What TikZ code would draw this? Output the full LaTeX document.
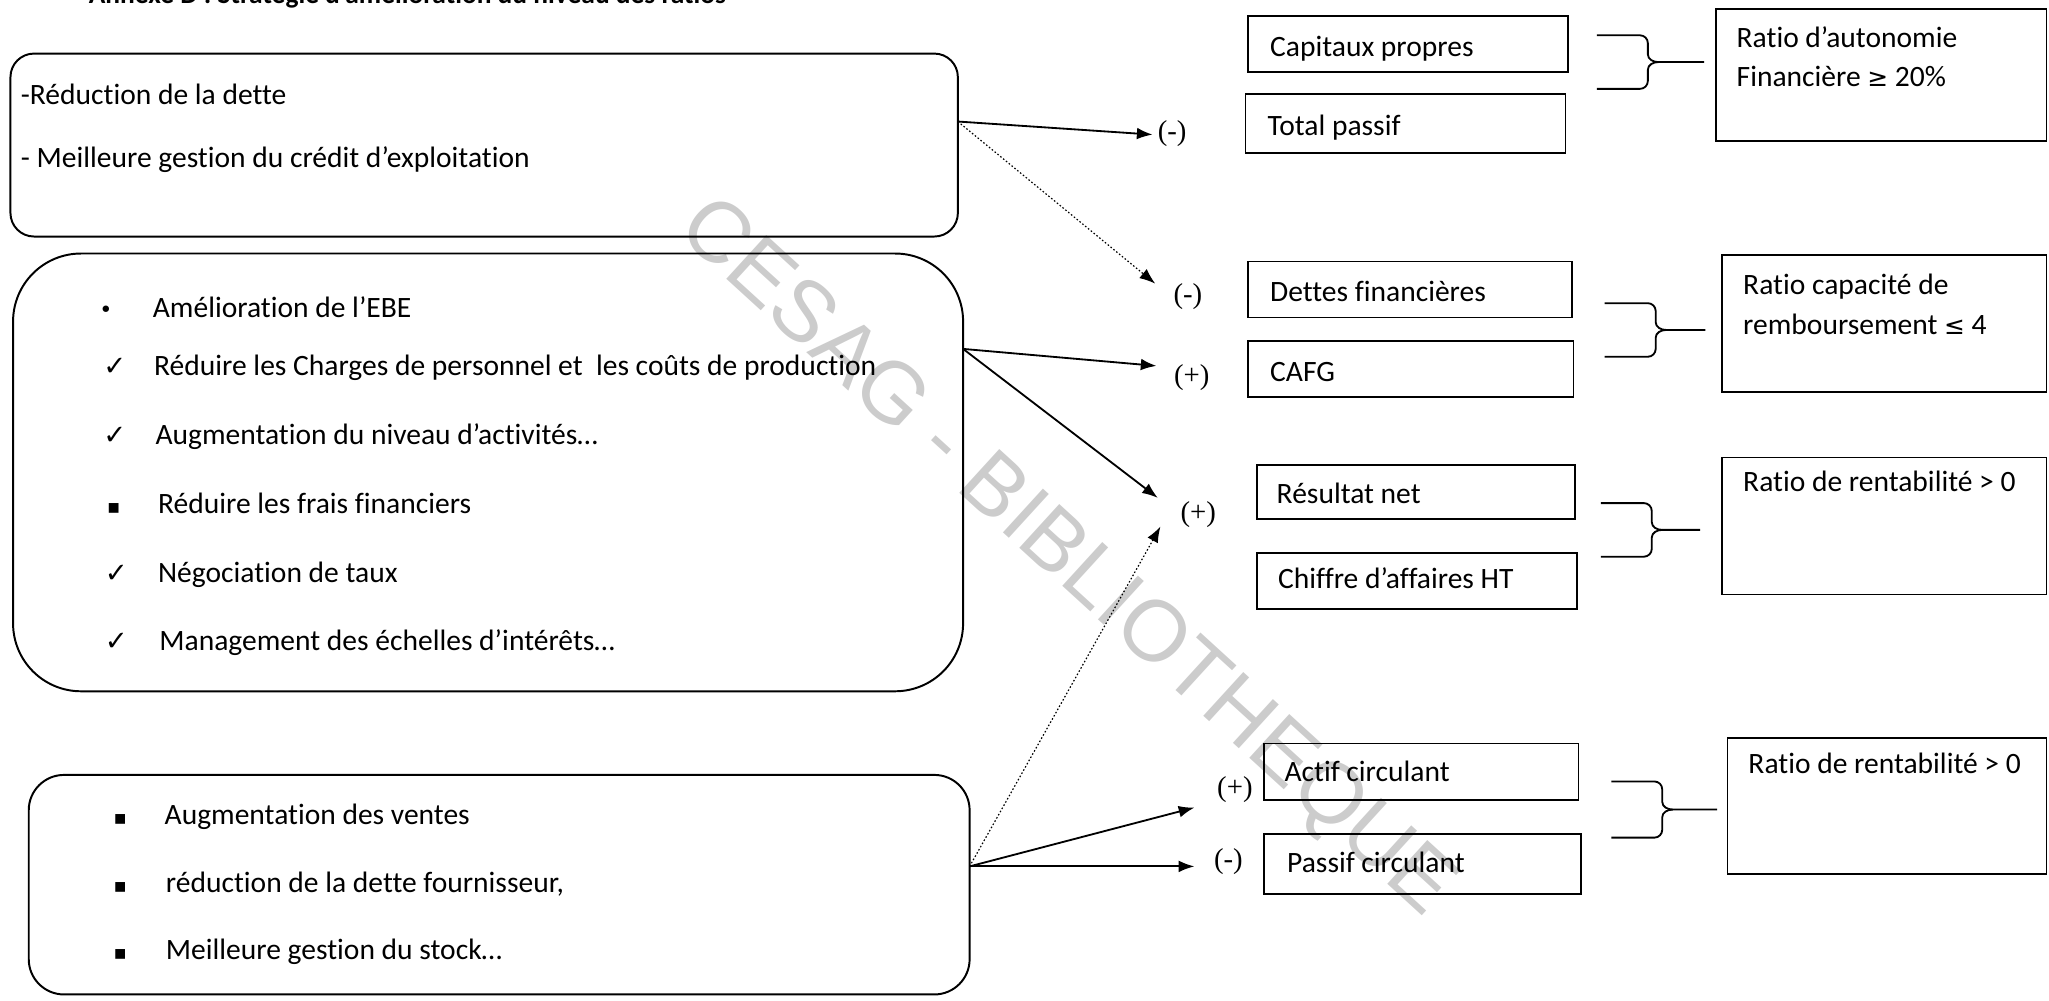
\documentclass[tikz,border=0pt]{standalone}
\usepackage{fontspec}
\setmainfont[Ligatures={NoCommon}]{Carlito}
\newfontfamily\symf{DejaVu Sans}
\newfontfamily\serf{Liberation Serif}
\newfontfamily\wmf{Liberation Sans}
\usetikzlibrary{arrows.meta,calc}
\newcommand\mybrace[4]{% left x, top y, bottom y, end x (all positive, y downward)
  \pgfmathsetmacro\bV{#1+39}\pgfmathsetmacro\bM{(#2+#3)/2}
  \draw[brc] (#1,-#2) -- (\bV-6,-#2) to[out=0,in=90] (\bV,-#2-6) -- (\bV,-\bM+6)
     to[out=-90,in=180] (\bV+8,-\bM) -- (#4,-\bM);
  \draw[brc] (#1,-#3) -- (\bV-6,-#3) to[out=0,in=-90] (\bV,-#3+6) -- (\bV,-\bM-6)
     to[out=90,in=180] (\bV+8,-\bM);
}
\begin{document}
\begin{tikzpicture}[x=1pt,y=1pt,
  every node/.style={inner sep=0pt, outer sep=0pt},
  rbox/.style={draw, line width=1.5pt, rounded corners=#1, anchor=north west},
  sbox/.style={draw, line width=1.3pt, anchor=north west},
  txt/.style={anchor=base west, font=\fontsize{22.6}{26}\selectfont},
  chk/.style={anchor=base, font=\symf\fontsize{21}{24}\selectfont},
  sq/.style={anchor=base, font=\symf\fontsize{15}{18}\selectfont},
  dot/.style={anchor=base, font=\symf\fontsize{17}{20}\selectfont},
  sign/.style={font=\serf\fontsize{22}{26}\selectfont},
  arr/.style={line width=1.4pt, -{Latex[length=12pt,width=9pt]}},
  darr/.style={line width=0.9pt, dash pattern=on 1.2pt off 1.6pt, -{Latex[length=12pt,width=9pt]}},
  brc/.style={line width=1.4pt},
]
\useasboundingbox (0,0) rectangle (1568,-766);
\clip (0,0) rectangle (1568,-766);

% watermark
\node[rotate=-42.4, font=\wmf\fontsize{66}{66}\selectfont, text=black!20] (wm) at (815,-428) {CESAG - BIBLIOTHEQUE};

% header (cut at the top)
\node[anchor=base west, font=\bfseries\fontsize{21}{24}\selectfont] (hdr) at (68,-2.5) {Annexe D : Stratégie d’amélioration du niveau des ratios};

% left rounded boxes
\node[rbox=18pt, minimum width=725pt, minimum height=140pt] (A) at (8,-41) {};
\node[rbox=52pt, minimum width=727pt, minimum height=335pt] (B) at (10,-194) {};
\node[rbox=27pt, minimum width=720pt, minimum height=168pt] (C) at (22,-593) {};

% box A text
\node[txt] (a1) at (16,-80) {-Réduction de la dette};
\node[txt] (a2) at (16,-128) {- Meilleure gestion du crédit d’exploitation};

% box B text
\node[dot] (bb1) at (81,-243) {•};
\node[txt] (b1) at (117,-243) {Amélioration de l’EBE};
\node[chk] (bb2) at (88,-287) {✓};
\node[txt] (b2) at (118,-287) {Réduire les Charges de personnel et\ \ les coûts de production};
\node[chk] (bb3) at (88,-340) {✓};
\node[txt] (b3) at (119,-340) {Augmentation du niveau d’activités…};
\node[sq] (bb4) at (87,-393) {▪};
\node[txt] (b4) at (121,-393) {Réduire les frais financiers};
\node[chk] (bb5) at (89,-446) {✓};
\node[txt] (b5) at (121,-446) {Négociation de taux};
\node[chk] (bb6) at (89,-498) {✓};
\node[txt] (b6) at (122,-498) {Management des échelles d’intérêts…};

% box C text
\node[sq] (cb1) at (92,-631) {▪};
\node[txt] (c1) at (126,-631) {Augmentation des ventes};
\node[sq] (cb2) at (92,-683) {▪};
\node[txt] (c2) at (127,-683) {réduction de la dette fournisseur,};
\node[sq] (cb3) at (92,-734) {▪};
\node[txt] (c3) at (127,-734) {Meilleure gestion du stock…};

% right boxes
\node[sbox, minimum width=245pt, minimum height=43pt] (cp) at (955,-12) {};
\node[txt] at (972,-43) {Capitaux propres};
\node[sbox, minimum width=245pt, minimum height=45pt] (tp) at (953,-72) {};
\node[txt] at (970,-104) {Total passif};
\node[sbox, minimum width=253pt, minimum height=101pt] (r1) at (1313,-7) {};
\node[txt] at (1329,-36) {Ratio d’autonomie};
\node[txt] at (1329,-66) {Financière {\symf\fontsize{19}{22}\selectfont ≥} 20\%};

\node[sbox, minimum width=248pt, minimum height=43pt] (df) at (955,-200) {};
\node[txt] at (972,-231) {Dettes financières};
\node[sbox, minimum width=249pt, minimum height=43pt] (cafg) at (955,-261) {};
\node[txt] at (972,-292) {CAFG};
\node[sbox, minimum width=248pt, minimum height=105pt] (r2) at (1318,-195) {};
\node[txt] at (1334,-225) {Ratio capacité de};
\node[txt] at (1334,-256) {remboursement {\symf\fontsize{19}{22}\selectfont ≤} 4};

\node[sbox, minimum width=243pt, minimum height=41pt] (rn) at (962,-356) {};
\node[txt] at (977,-385) {Résultat net};
\node[sbox, minimum width=245pt, minimum height=43pt] (ca) at (962,-423) {};
\node[txt] at (978,-450) {Chiffre d’affaires HT};
\node[sbox, minimum width=248pt, minimum height=105pt] (r3) at (1318,-350) {};
\node[txt] at (1334,-376) {Ratio de rentabilité > 0};

\node[sbox, minimum width=241pt, minimum height=43pt] (ac) at (967,-569) {};
\node[txt] at (983,-598) {Actif circulant};
\node[sbox, minimum width=243pt, minimum height=46pt] (pc) at (967,-638) {};
\node[txt] at (985,-668) {Passif circulant};
\node[sbox, minimum width=244pt, minimum height=104pt] (r4) at (1322,-565) {};
\node[txt] at (1338,-592) {Ratio de rentabilité > 0};

% braces
\mybrace{1222}{27}{68}{1304}
\mybrace{1228}{232}{273}{1305}
\mybrace{1225}{385}{426}{1301}
\mybrace{1233}{598}{641}{1314}

% signs
\node[sign] (s1) at (897,-102) {(-)};
\node[sign] (s2) at (909,-227) {(-)};
\node[sign] (s3) at (912,-289) {(+)};
\node[sign] (s4) at (917,-394) {(+)};
\node[sign] (s5) at (945,-604) {(+)};
\node[sign] (s6) at (940,-659) {(-)};

% connector ends
\coordinate (pa) at (A.east |- 0,-93);
\coordinate (pb) at (B.east |- 0,-267);
\coordinate (pcc) at (C.east |- 0,-663);
\coordinate (t1) at (882,-103);
\coordinate (t2) at (884,-217);
\coordinate (t3) at (885,-280);
\coordinate (t4) at (886,-381);
\coordinate (t5) at (888,-403);
\coordinate (t6) at (914,-618);
\coordinate (t7) at (914,-663);

\draw[arr] (pa) -- (t1);
\draw[darr] (pa) -- (t2);
\draw[arr] (pb) -- (t3);
\draw[arr] (pb) -- (t4);
\draw[darr] (pcc) -- (t5);
\draw[arr] (pcc) -- (t6);
\draw[arr] (pcc) -- (t7);
\end{tikzpicture}
\end{document}
